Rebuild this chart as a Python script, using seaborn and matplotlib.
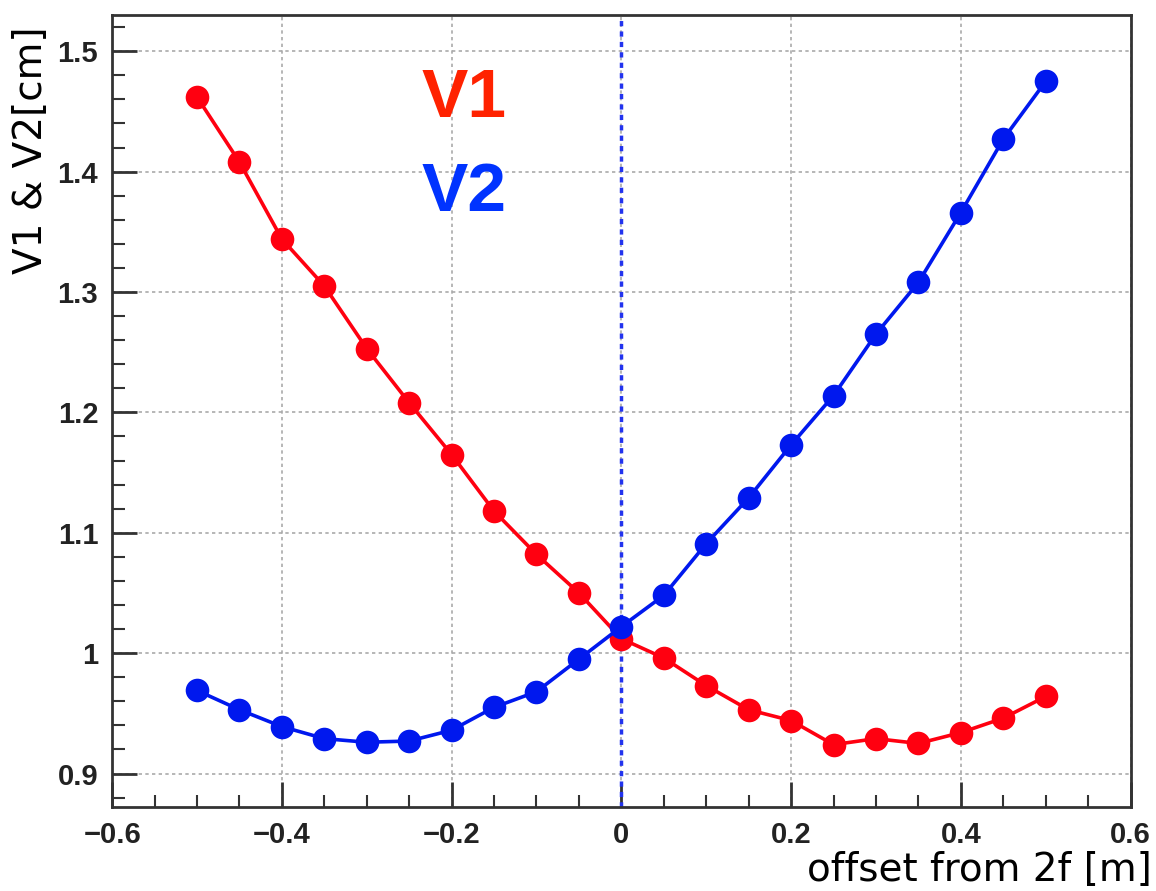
import matplotlib
matplotlib.use("Agg")
import matplotlib.pyplot as plt
from matplotlib.ticker import MultipleLocator
import seaborn as sns
import pandas as pd

# offset from 2f [m]
offset = [-0.5, -0.45, -0.4, -0.35, -0.3, -0.25, -0.2, -0.15, -0.1, -0.05, 0.0,
          0.05, 0.1, 0.15, 0.2, 0.25, 0.3, 0.35, 0.4, 0.45, 0.5]

v1 = [1.462, 1.408, 1.344, 1.305, 1.253, 1.208, 1.165, 1.118, 1.082, 1.050, 1.012,
      0.996, 0.973, 0.953, 0.944, 0.924, 0.929, 0.925, 0.934, 0.946, 0.964]
v2 = [0.969, 0.953, 0.939, 0.929, 0.926, 0.927, 0.936, 0.955, 0.968, 0.995, 1.022,
      1.048, 1.091, 1.129, 1.173, 1.214, 1.265, 1.308, 1.366, 1.427, 1.475]

df = pd.DataFrame({
    'offset': offset * 2,
    'value': v1 + v2,
    'series': ['V1'] * len(v1) + ['V2'] * len(v2),
})

sns.set_style("white")
plt.rcParams['font.family'] = ['Liberation Sans', 'DejaVu Sans']

fig = plt.figure(figsize=(11.56, 8.91), dpi=100)
ax = fig.add_axes([0.097, 0.094, 0.881, 0.889])

# grid + centre line
ax.grid(True, which='major', color='#aaaaaa', linestyle=(0, (2, 2)), linewidth=1.2)
ax.axvline(0, color='#2233ee', linestyle=(0, (1.5, 1.5)), linewidth=2.5, zorder=1)

sns.lineplot(data=df, x='offset', y='value', hue='series',
             palette={'V1': '#ff0010', 'V2': '#0018ee'},
             marker='o', markersize=17, markeredgewidth=0,
             linewidth=2.6, legend=False, ax=ax, zorder=3)

ax.set_xlim(-0.6, 0.6)
ax.set_ylim(0.872, 1.53)
ax.xaxis.set_minor_locator(MultipleLocator(0.05))
ax.yaxis.set_minor_locator(MultipleLocator(0.02))

ax.tick_params(which='both', direction='in', bottom=True, left=True,
               top=False, right=False, color='#333333')
ax.tick_params(which='major', length=18, width=2, labelsize=21, pad=10)
ax.tick_params(which='minor', length=9, width=1.5)

ax.set_xticks([-0.6, -0.4, -0.2, 0, 0.2, 0.4, 0.6])
ax.set_xticklabels(['\u22120.6', '\u22120.4', '\u22120.2', '0', '0.2', '0.4', '0.6'],
                   fontweight='bold', color='#222222')
ax.set_yticks([0.9, 1.0, 1.1, 1.2, 1.3, 1.4, 1.5])
ax.set_yticklabels(['0.9', '1', '1.1', '1.2', '1.3', '1.4', '1.5'],
                   fontweight='bold', color='#222222')

for s in ax.spines.values():
    s.set_color('#333333')
    s.set_linewidth(2)

ax.set_xlabel('')
ax.set_ylabel('')
fig.text(0.996, 0.002, 'offset from 2f [m]', ha='right', va='bottom', fontsize=28,
         family='DejaVu Sans', color='black')
fig.text(0.01, 0.97, 'V1 & V2[cm]', ha='left', va='top', rotation=90, fontsize=28,
         family='DejaVu Sans', color='black')

ax.text(-0.236, 1.4606, 'V1', color='#ff2200', fontsize=50, fontweight='bold',
        ha='left', va='center')
ax.text(-0.236, 1.3826, 'V2', color='#0033ff', fontsize=50, fontweight='bold',
        ha='left', va='center')

fig.savefig('out.png', dpi=100)
